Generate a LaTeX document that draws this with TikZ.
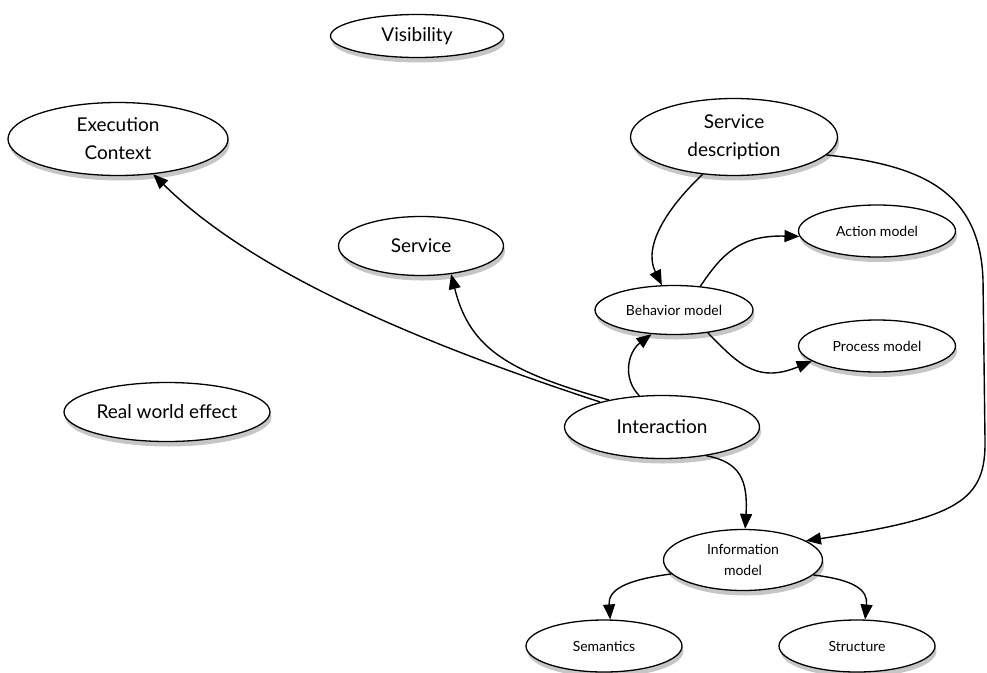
\documentclass[tikz,border=0pt]{standalone}
\usepackage{fontspec}
\setmainfont{Lato}
\usetikzlibrary{arrows.meta,shapes.geometric,shadows}

\begin{document}
\begin{tikzpicture}[x=1pt,y=-1pt,>={Triangle[length=15pt,width=12pt]},
  concept/.style={ellipse,draw,line width=1.3pt,fill=white,inner sep=0pt,
    align=center,drop shadow={shadow xshift=1.5pt,shadow yshift=-5pt,opacity=0.45}},
  big/.style={font=\fontsize{19}{28}\selectfont},
  small/.style={font=\fontsize{14}{21}\selectfont},
  link/.style={->,line width=1.4pt}]
  \useasboundingbox (0,0) rectangle (987,672);

  % Concepts
  \node[concept,big,minimum width=173pt,minimum height=43pt] (vis) at (417,36) {Visibility};
  \node[concept,big,minimum width=220pt,minimum height=73pt] (exec) at (118,139) {Execution\\Context};
  \node[concept,big,minimum width=207pt,minimum height=77pt] (sdesc) at (734,137) {Service\\description};
  \node[concept,big,minimum width=165pt,minimum height=59pt] (serv) at (421,246) {Service};
  \node[concept,small,minimum width=157pt,minimum height=52pt] (act) at (877,231) {Action model};
  \node[concept,small,minimum width=158pt,minimum height=49pt] (beh) at (674,310) {Behavior model};
  \node[concept,small,minimum width=157pt,minimum height=52pt] (proc) at (877,346) {Process model};
  \node[concept,big,minimum width=206pt,minimum height=59pt] (real) at (167,412) {Real world effect};
  \node[concept,big,minimum width=195pt,minimum height=63pt] (inter) at (662,427) {Interaction};
  \node[concept,small,minimum width=159pt,minimum height=61pt] (info) at (743,560) {Information\\model};
  \node[concept,small,minimum width=156pt,minimum height=52pt] (sem) at (604,646) {Semantics};
  \node[concept,small,minimum width=156pt,minimum height=52pt] (struc) at (857,646) {Structure};

  % Links
  \draw[link] (inter.158) .. controls (380,330) and (240,260) .. (exec.-45);
  \draw[link] (inter.153) .. controls (510,372) and (470,350) .. (serv.-43);
  \draw[link] (inter.126) .. controls (622,378) and (628,352) .. (beh.-133);
  \draw[link] (sdesc.-130) .. controls (670,205) and (642,245) .. (beh.116);
  \draw[link] (beh.42) .. controls (722,254) and (740,235) .. (act.184);
  \draw[link] (beh.-34) .. controls (735,360) and (755,385) .. (proc.193);
  \draw[link] (inter.-33) .. controls (740,462) and (748,480) .. (info.86);
  \draw[link] (sdesc.-11) .. controls (920,165) and (980,190) .. (983,280)
    -- (985,440) .. controls (986,500) and (960,518) .. (info.17);
  \draw[link] (info.-169) .. controls (625,580) and (608,590) .. (sem.77);
  \draw[link] (info.-12) .. controls (855,580) and (868,590) .. (struc.73);
\end{tikzpicture}
\end{document}
